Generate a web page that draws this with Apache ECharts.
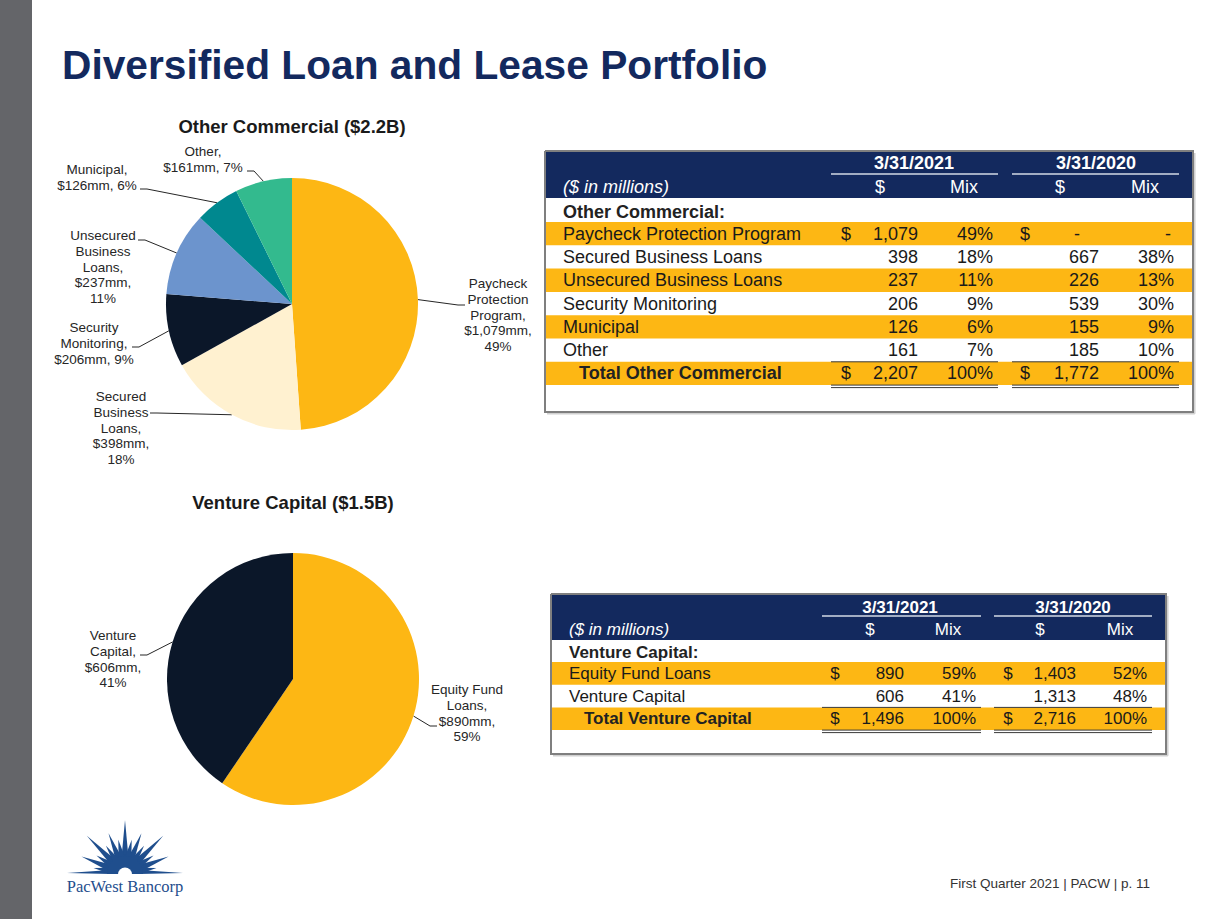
<!DOCTYPE html>
<html>
<head>
<meta charset="utf-8">
<script src="https://cdn.jsdelivr.net/npm/echarts@6/dist/echarts.min.js"></script>
<style>html,body{margin:0;padding:0;background:#fff}#c{width:1225px;height:919px}</style>
</head>
<body>
<div id="c"></div>
<script>
// ---------------- DATA ----------------
const slideTitle = 'Diversified Loan and Lease Portfolio';
const footerText = 'First Quarter 2021 | PACW | p. 11';
const logoText = 'PacWest Bancorp';
const ocChartTitle = 'Other Commercial ($2.2B)';
const vcChartTitle = 'Venture Capital ($1.5B)';
const periods = ['3/31/2021', '3/31/2020'];
const subHeaders = ['$', 'Mix'];
const unitsNote = '($ in millions)';

const ocSection = 'Other Commercial:';
const ocRows = ['Paycheck Protection Program', 'Secured Business Loans', 'Unsecured Business Loans', 'Security Monitoring', 'Municipal', 'Other'];
const oc2021Amt = [1079, 398, 237, 206, 126, 161];
const oc2021Mix = [49, 18, 11, 9, 6, 7];
const oc2020Amt = [null, 667, 226, 539, 155, 185];
const oc2020Mix = [null, 38, 13, 30, 9, 10];
const ocTotalLabel = 'Total Other Commercial';
const ocTotal2021 = 2207;
const ocTotal2020 = 1772;
const ocPieOrder = [0, 1, 3, 2, 4, 5];   // clockwise drawing order (table indices)
const ocPieLabelNames = ['Paycheck\nProtection\nProgram', 'Secured\nBusiness\nLoans', 'Unsecured\nBusiness\nLoans', 'Security\nMonitoring', 'Municipal', 'Other'];
const ocPieLabelSep = ['\n', '\n', '\n', ' ', ' ', ' '];

const vcSection = 'Venture Capital:';
const vcRows = ['Equity Fund Loans', 'Venture Capital'];
const vc2021Amt = [890, 606];
const vc2021Mix = [59, 41];
const vc2020Amt = [1403, 1313];
const vc2020Mix = [52, 48];
const vcTotalLabel = 'Total Venture Capital';
const vcTotal2021 = 1496;
const vcTotal2020 = 2716;
const vcPieOrder = [0, 1];
const vcPieLabelNames = ['Equity Fund\nLoans', 'Venture\nCapital'];
const vcPieLabelSep = ['\n', '\n'];
const totalMix = 100;

// ---------------- STYLE / LAYOUT ----------------
const SANS = '"Liberation Sans", Arial, Helvetica, sans-serif';
const SERIF = '"Liberation Serif", "Times New Roman", serif';
const NAVY = '#13295E';
const GOLD = '#FDB714';
const ocColors = ['#FDB714', '#FFF1D0', '#6C94CD', '#0B1729', '#00888F', '#33BA8E'];
const vcColors = ['#FDB714', '#0B1729'];

const ocLabelPos = [
  {x: 498, y: 276, ex: 465, ey: 305, side: 1},
  {x: 121, y: 389, ex: 150, ey: 413, side: -1},
  {x: 103, y: 228, ex: 138, ey: 240, side: -1},
  {x: 94,  y: 320, ex: 132, ey: 347, side: -1},
  {x: 97,  y: 162, ex: 140, ey: 189, side: -1},
  {x: 203, y: 144, ex: 247, ey: 171, side: -1}
];
const vcLabelPos = [
  {x: 467, y: 682, ex: 437, ey: 726, side: 1},
  {x: 113, y: 628, ex: 140, ey: 655, side: -1}
];

const t1 = {x: 545, y: 151, w: 648, h: 261, headH: 47, fs: 18, rowTop: 222, rowH: 23.3,
  textX: 563, totalX: 579, sectionY: 212, hdr1Y: 163, hdr2Y: 187, ulY: 174,
  c: {d21: 846, n21: 918, m21: 993, d20: 1025, n20: 1099, m20: 1174},
  hc: {date21: 914, date20: 1096, s21: 880, mix21: 964, s20: 1060, mix20: 1145},
  ul21: [831, 998], ul20: [1012, 1179], dashOff: [22, 6]};
const t2 = {x: 551, y: 594, w: 615, h: 160, headH: 46, fs: 17, rowTop: 662, rowH: 22.7,
  textX: 569, totalX: 584, sectionY: 652, hdr1Y: 607, hdr2Y: 629, ulY: 616,
  c: {d21: 835, n21: 904, m21: 976, d20: 1008, n20: 1076, m20: 1147},
  hc: {date21: 900, date20: 1073, s21: 870, mix21: 948, s20: 1040, mix20: 1120},
  ul21: [822, 981], ul20: [994, 1152], dashOff: [21, 6]};

// ---------------- GRAPHIC HELPERS ----------------
const g = [];
function T(x, y, text, fs, o) {
  o = o || {};
  const font = (o.italic ? 'italic ' : '') + (o.bold ? 'bold ' : '') + fs + 'px ' + (o.family || SANS);
  const al = o.align || 'left', va = o.va || 'middle';
  g.push({type: 'text', silent: true, z: o.z || 10,
    style: {x: x, y: y, text: text, font: font, fill: o.color || '#1A1A1A',
      align: al, verticalAlign: va, textAlign: al, textVerticalAlign: va}});
}
function R(x, y, w, h, fill, z) {
  g.push({type: 'rect', silent: true, z: z, shape: {x: x, y: y, width: w, height: h},
    style: {fill: fill}});
}
function L(xa, ya, xb, yb, stroke, lw, z) {
  g.push({type: 'line', silent: true, z: z, shape: {x1: xa, y1: ya, x2: xb, y2: yb},
    style: {stroke: stroke, lineWidth: lw, fill: null}});
}
const fmt = v => v.toLocaleString('en-US');

function buildTable(cfg, section, rows, a21, m21, a20, m20, totalLabel, tot21, tot20) {
  const fs = cfg.fs, hc = cfg.hc;
  R(cfg.x, cfg.y, cfg.w, cfg.h, '#FFFFFF', 2);
  R(cfg.x, cfg.y, cfg.w, cfg.headH, NAVY, 3);
  T(hc.date21, cfg.hdr1Y, periods[0], fs, {bold: true, color: '#FFFFFF', align: 'center'});
  T(hc.date20, cfg.hdr1Y, periods[1], fs, {bold: true, color: '#FFFFFF', align: 'center'});
  L(cfg.ul21[0], cfg.ulY, cfg.ul21[1], cfg.ulY, '#D3DAE6', 1.5, 6);
  L(cfg.ul20[0], cfg.ulY, cfg.ul20[1], cfg.ulY, '#D3DAE6', 1.5, 6);
  T(cfg.textX, cfg.hdr2Y, unitsNote, fs, {italic: true, color: '#FFFFFF'});
  T(hc.s21, cfg.hdr2Y, subHeaders[0], fs, {color: '#FFFFFF', align: 'center'});
  T(hc.mix21, cfg.hdr2Y, subHeaders[1], fs, {color: '#FFFFFF', align: 'center'});
  T(hc.s20, cfg.hdr2Y, subHeaders[0], fs, {color: '#FFFFFF', align: 'center'});
  T(hc.mix20, cfg.hdr2Y, subHeaders[1], fs, {color: '#FFFFFF', align: 'center'});
  T(cfg.textX, cfg.sectionY, section, fs, {bold: true, color: '#222222'});
  rows.forEach(function (name, i) {
    const top = cfg.rowTop + i * cfg.rowH, cy = top + cfg.rowH / 2;
    if (i % 2 === 0) R(cfg.x, top, cfg.w, cfg.rowH, GOLD, 3);
    T(cfg.textX, cy, name, fs);
    if (i === 0) T(cfg.c.d21, cy, '$', fs, {align: 'center'});
    T(cfg.c.n21, cy, fmt(a21[i]), fs, {align: 'right'});
    T(cfg.c.m21, cy, m21[i] + '%', fs, {align: 'right'});
    if (i === 0) T(cfg.c.d20, cy, '$', fs, {align: 'center'});
    if (a20[i] == null) T(cfg.c.n20 - cfg.dashOff[0], cy, '-', fs, {align: 'center'});
    else T(cfg.c.n20, cy, fmt(a20[i]), fs, {align: 'right'});
    if (m20[i] == null) T(cfg.c.m20 - cfg.dashOff[1], cy, '-', fs, {align: 'center'});
    else T(cfg.c.m20, cy, m20[i] + '%', fs, {align: 'right'});
  });
  const tTop = cfg.rowTop + rows.length * cfg.rowH, tcy = tTop + cfg.rowH / 2, tBot = tTop + cfg.rowH;
  R(cfg.x, tTop, cfg.w, cfg.rowH, GOLD, 3);
  [cfg.ul21, cfg.ul20].forEach(function (u) {
    L(u[0], tTop, u[1], tTop, '#3A3A3A', 1, 6);
    L(u[0], tBot, u[1], tBot, '#3A3A3A', 1, 6);
    L(u[0], tBot + 2.5, u[1], tBot + 2.5, '#3A3A3A', 1, 6);
  });
  T(cfg.totalX, tcy, totalLabel, fs, {bold: true, color: '#222222'});
  T(cfg.c.d21, tcy, '$', fs, {align: 'center'});
  T(cfg.c.n21, tcy, fmt(tot21), fs, {align: 'right'});
  T(cfg.c.m21, tcy, totalMix + '%', fs, {align: 'right'});
  T(cfg.c.d20, tcy, '$', fs, {align: 'center'});
  T(cfg.c.n20, tcy, fmt(tot20), fs, {align: 'right'});
  T(cfg.c.m20, tcy, totalMix + '%', fs, {align: 'right'});
  // frame
  const xa = cfg.x, ya = cfg.y, xb = cfg.x + cfg.w, yb = cfg.y + cfg.h;
  L(xb + 1.8, ya + 2, xb + 1.8, yb + 1.8, '#D0D0D0', 1.5, 19);
  L(xa + 2, yb + 1.8, xb + 1.8, yb + 1.8, '#D0D0D0', 1.5, 19);
  g.push({type: 'polyline', silent: true, z: 20,
    shape: {points: [[xa, ya], [xb, ya], [xb, yb], [xa, yb], [xa, ya]]},
    style: {stroke: '#7F7F7F', lineWidth: 2, fill: null}});
}

// slide chrome
R(0, 0, 32, 919, '#646569', 1);
T(62, 65, slideTitle, 40.7, {bold: true, color: NAVY});
T(292, 126, ocChartTitle, 18.5, {bold: true, color: '#1A1A1A', align: 'center'});
T(293, 502, vcChartTitle, 18.5, {bold: true, color: '#1A1A1A', align: 'center'});
T(1150, 883, footerText, 13.5, {color: '#333333', align: 'right'});

buildTable(t1, ocSection, ocRows, oc2021Amt, oc2021Mix, oc2020Amt, oc2020Mix, ocTotalLabel, ocTotal2021, ocTotal2020);
buildTable(t2, vcSection, vcRows, vc2021Amt, vc2021Mix, vc2020Amt, vc2020Mix, vcTotalLabel, vcTotal2021, vcTotal2020);

// logo (decorative sunburst)
(function () {
  const cx = 125, cy = 874, blue = '#1F4E8D';
  const rays = [[1, 58], [22, 47], [45, 54], [68, 44], [90, 54], [112, 44], [135, 54], [158, 47], [179, 58],
                [11, 32], [33, 34], [56, 34], [79, 35], [101, 35], [124, 34], [147, 34], [169, 32]];
  rays.forEach(function (r) {
    const a = r[0] * Math.PI / 180, len = r[1], hw = 14 * Math.PI / 180, r0 = 15;
    const p = function (ang, rad) { return [cx + rad * Math.cos(ang), Math.min(cy, cy - rad * Math.sin(ang))]; };
    g.push({type: 'polygon', silent: true, z: 3,
      shape: {points: [p(a - hw, r0), p(a, len), p(a + hw, r0)]}, style: {fill: blue}});
  });
  g.push({type: 'sector', silent: true, z: 4, shape: {cx: cx, cy: cy, r0: 0, r: 18, startAngle: Math.PI, endAngle: 2 * Math.PI}, style: {fill: blue}});
  g.push({type: 'sector', silent: true, z: 5, shape: {cx: cx, cy: cy + 0.5, r0: 0, r: 7, startAngle: Math.PI, endAngle: 2 * Math.PI}, style: {fill: '#FFFFFF'}});
  T(125, 886, logoText, 16.5, {family: SERIF, color: blue, align: 'center'});
})();

// ---------------- PIES ----------------
function pieSeries(center, order, rows, amts, colors, names, seps, pos) {
  return {
    type: 'pie', center: center, radius: 126, startAngle: 90, clockwise: true,
    percentPrecision: 0, avoidLabelOverlap: false, animation: false, silent: true,
    emphasis: {disabled: true, scale: false},
    itemStyle: {borderWidth: 0},
    data: order.map(function (i) { return {name: rows[i], value: amts[i], itemStyle: {color: colors[i]}}; }),
    label: {
      show: true, position: 'outside', color: '#262626', fontSize: 13.5, fontFamily: SANS, lineHeight: 15.6,
      formatter: function (p) {
        const i = order[p.dataIndex];
        return names[i] + ',\n$' + fmt(p.value) + 'mm,' + seps[i] + Math.round(p.percent) + '%';
      }
    },
    labelLine: {show: true, length: 10, length2: 10, lineStyle: {color: '#262626', width: 1}},
    labelLayout: function (p) {
      const L2 = pos[order[p.dataIndex]];
      const edge = (p.labelLinePoints && p.labelLinePoints[0]) ? p.labelLinePoints[0].slice() : [L2.ex, L2.ey];
      return {x: L2.x, y: L2.y, align: 'center', verticalAlign: 'top',
        labelLinePoints: [edge, [L2.ex - L2.side * 7, L2.ey], [L2.ex, L2.ey]]};
    }
  };
}

const chart = echarts.init(document.getElementById('c'), null, {renderer: 'svg', width: 1225, height: 919});
chart.setOption({
  backgroundColor: '#FFFFFF',
  animation: false,
  graphic: {elements: g},
  series: [
    pieSeries([292, 304], ocPieOrder, ocRows, oc2021Amt, ocColors, ocPieLabelNames, ocPieLabelSep, ocLabelPos),
    pieSeries([293, 679], vcPieOrder, vcRows, vc2021Amt, vcColors, vcPieLabelNames, vcPieLabelSep, vcLabelPos)
  ]
});
</script>
</body>
</html>
